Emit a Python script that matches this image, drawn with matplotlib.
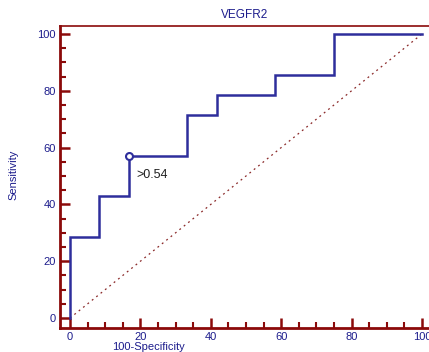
import matplotlib
matplotlib.use("Agg")
import matplotlib.pyplot as plt
from matplotlib.ticker import MultipleLocator

# ROC curve for VEGFR2 (step points: 100-specificity, sensitivity)
fpr = [0, 0, 8.33, 8.33, 16.67, 16.67, 33.33, 33.33, 41.67, 41.67, 58.33, 58.33, 75, 75, 100]
tpr = [0, 28.57, 28.57, 42.86, 42.86, 57.14, 57.14, 71.43, 71.43, 78.57, 78.57, 85.71, 85.71, 100, 100]
cut_point = (16.67, 57.14)
cut_label = ">0.54"
title = "VEGFR2"
x_label = "100-Specificity"
y_label = "Sensitivity"
ticks = [0, 20, 40, 60, 80, 100]

axis_red = "#8b0a0a"
curve_blue = "#2e2e9c"
text_blue = "#1c1c8c"

plt.rcParams["font.family"] = ["Liberation Sans", "DejaVu Sans"]
fig = plt.figure(figsize=(4.29, 3.52), dpi=100)
W, H = 429, 352
ax = fig.add_axes([60 / W, 24 / H, 1 - 60 / W, (328 - 26) / H])
ax.set_xlim(-2.84, 102.0)
ax.set_ylim(-3.5, 102.8)

ax.plot([0, 100], [0, 100], linestyle=(0, (1.5, 3)), color="#8b2a2a", lw=0.9)
ax.plot(fpr, tpr, color=curve_blue, lw=1.8, solid_joinstyle="miter")
ax.plot(*cut_point, marker="o", ms=5, mfc="white", mec=curve_blue, mew=1.5)
ax.text(18.8, 50.2, cut_label, fontsize=9, color="#202020", va="center", ha="left")

for s in ["left", "bottom", "top"]:
    ax.spines[s].set_color(axis_red)
    ax.spines[s].set_linewidth(2.0)
ax.spines["top"].set_linewidth(1.2)
ax.spines["right"].set_visible(False)

ax.set_xticks(ticks)
ax.set_yticks(ticks)
ax.xaxis.set_minor_locator(MultipleLocator(5))
ax.yaxis.set_minor_locator(MultipleLocator(5))
ax.tick_params(which="major", direction="in", length=7, width=1.8, color=axis_red,
               labelcolor=text_blue, labelsize=8, pad=3)
ax.tick_params(which="minor", direction="in", length=4, width=1.5, color=axis_red)
ax.tick_params(top=False, right=False, which="both")

ax.set_title(title, fontsize=8.5, color=text_blue, pad=6)
ax.set_xlabel(x_label, fontsize=8, color=text_blue)
ax.xaxis.set_label_coords((148 - 60) / (W - 60), -0.045)
ax.set_ylabel(y_label, fontsize=8, color=text_blue)
ax.yaxis.set_label_coords(-(60 - 18) / (W - 60), (328 - 175) / (328 - 26))

fig.savefig("out.png", dpi=100)
